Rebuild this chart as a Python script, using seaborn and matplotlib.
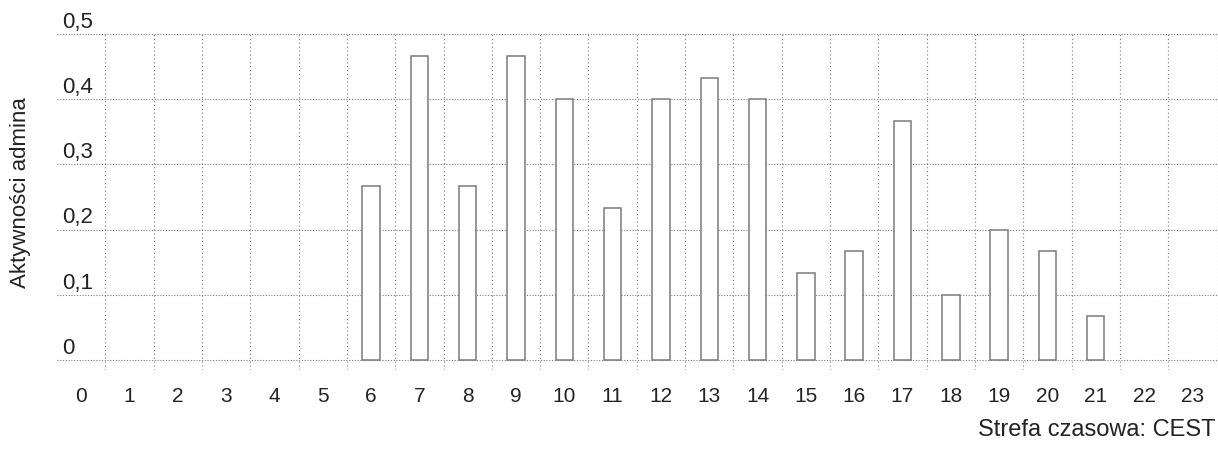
import numpy as np
import pandas as pd
import matplotlib
matplotlib.use("Agg")
import matplotlib.pyplot as plt
import matplotlib.transforms as mtransforms
import seaborn as sns

# Hourly admin activity (hour of day, CEST)
hours = list(range(24))
activity = [0, 0, 0, 0, 0, 0,
            0.267, 0.467, 0.267, 0.467, 0.400, 0.233,
            0.400, 0.433, 0.400, 0.133, 0.167, 0.367,
            0.100, 0.200, 0.167, 0.067, 0, 0]
y_ticks = [0, 0.1, 0.2, 0.3, 0.4, 0.5]
y_tick_labels = ["0", "0,1", "0,2", "0,3", "0,4", "0,5"]
y_title = "Aktywności admina"
footnote = "Strefa czasowa: CEST"

sns.set_theme(style="white")
plt.rcParams["font.family"] = ["Liberation Sans", "DejaVu Sans"]

df = pd.DataFrame({"hour": hours, "activity": activity})

fig = plt.figure(figsize=(12.18, 4.5), dpi=100)
ax = fig.add_axes([0.0468, 0.178, 0.952, 0.7486])

sns.barplot(data=df, x="hour", y="activity", order=hours, color="white",
            edgecolor="#7a7a7a", linewidth=1.1, width=0.36, saturation=1,
            ax=ax, zorder=3)

# hide empty hours (no outline on the baseline)
for p in ax.patches:
    if p.get_height() == 0:
        p.set_visible(False)

ax.set_xlim(-0.5, 23.5)
ax.set_ylim(-0.015, 0.5015)
for s in ax.spines.values():
    s.set_visible(False)

# grid: horizontal at value ticks, vertical between hours
ax.set_yticks(y_ticks)
ax.set_yticklabels([])
ax.set_xticks(np.arange(0.5, 23.6, 1), minor=True)
ax.grid(False)
ax.grid(True, which="major", axis="y", color="#7a7a7a", linestyle=(0, (1, 1.5)),
        linewidth=0.8, zorder=0)
ax.grid(True, which="minor", axis="x", color="#7a7a7a", linestyle=(0, (1, 2.5)),
        linewidth=0.8, zorder=0)
ax.set_axisbelow(True)

ax.tick_params(axis="both", which="both", length=0)
ax.tick_params(axis="x", which="major", pad=12, labelsize=15, labelcolor="#222222")
ax.set_xticks(range(24))
ax.set_xticklabels([str(h) for h in hours])

# value labels sit just above each gridline, inside the plot
trans = mtransforms.blended_transform_factory(ax.transAxes, ax.transData)
for v, lab in zip(y_ticks, y_tick_labels):
    ax.text(0.004, v + 0.002, lab, transform=trans, ha="left", va="bottom",
            fontsize=16, color="#222222")

ax.set_xlabel("")
ax.set_ylabel("")
fig.text(0.017, 0.573, y_title, rotation=90, ha="center", va="center",
         fontsize=16, color="#222222")
fig.text(0.998, 0.045, footnote, ha="right", va="center",
         fontsize=17, color="#222222")

fig.savefig("out.png", dpi=100)
